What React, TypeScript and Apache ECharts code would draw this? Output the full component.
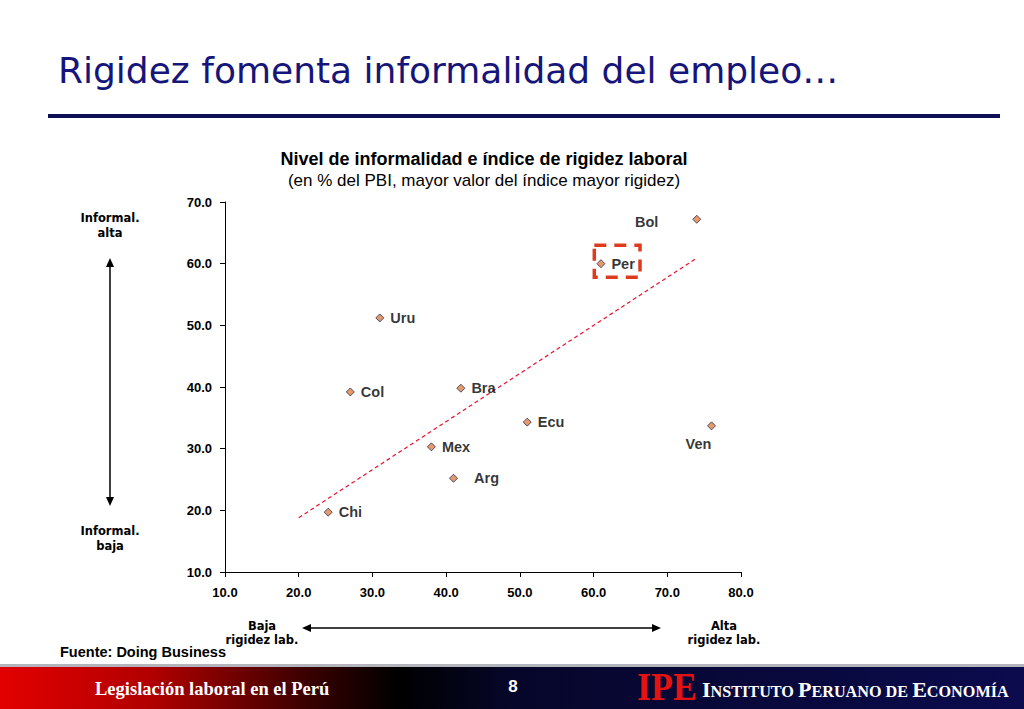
import React, { useEffect, useRef } from "react";
import * as echarts from "echarts";

// datos (Doing Business)
const countries = ["Bol", "Per", "Uru", "Col", "Bra", "Ecu", "Ven", "Mex", "Arg", "Chi"];
const rigidity = [74, 61, 31, 27, 42, 51, 76, 38, 41, 24];
const informality = [67.2, 60.0, 51.2, 39.2, 39.8, 34.3, 33.7, 30.3, 25.2, 19.7];

// línea de tendencia (extremos)
const trendX = [20, 74];
const trendY = [18.8, 60.9];

// recuadro que resalta al Perú (en unidades del gráfico)
const highlightX = [60.1, 66.3];
const highlightY = [57.8, 63.0];

const xMin = 10;
const xMax = 80;
const yMin = 10;
const yMax = 70;
const tickStep = 10;

const SANS = "Arial, 'Liberation Sans', sans-serif";
const VERDANA = "'DejaVu Sans', Verdana, sans-serif";
const SERIF = "'Liberation Serif', 'Times New Roman', serif";

// ajustes de etiqueta para puntos concretos
const labelTweaks: Record<string, any> = {
  Bol: { position: "left", distance: 34, offset: [0, 3] },
  Ven: { position: "bottom", distance: 6, offset: [-13, 0] },
  Arg: { distance: 16 },
};

function arrowHead(x: number, y: number, dir: "up" | "down" | "left" | "right") {
  const s = 4;
  const l = 9;
  let pts: number[][];
  if (dir === "up") pts = [[x, y], [x - s, y + l], [x + s, y + l]];
  else if (dir === "down") pts = [[x, y], [x - s, y - l], [x + s, y - l]];
  else if (dir === "left") pts = [[x, y], [x + l, y - s], [x + l, y + s]];
  else pts = [[x, y], [x - l, y - s], [x - l, y + s]];
  return { type: "polygon", shape: { points: pts }, style: { fill: "#000" } };
}

export default function App() {
  const chartRef = useRef<HTMLDivElement>(null);

  useEffect(() => {
    if (!chartRef.current) return;
    const chart = echarts.init(chartRef.current, undefined, { renderer: "svg" });

    const points = countries.map((name, i) => {
      const tweak = labelTweaks[name];
      const item: any = { name, value: [rigidity[i], informality[i]] };
      if (tweak) item.label = { ...tweak };
      return item;
    });

    const footerGradient = new echarts.graphic.LinearGradient(0, 0, 1, 0, [
      { offset: 0, color: "#e30000" },
      { offset: 0.15, color: "#b00000" },
      { offset: 0.3, color: "#3a0000" },
      { offset: 0.39, color: "#000000" },
      { offset: 0.5, color: "#06062a" },
      { offset: 1, color: "#0b0b4e" },
    ]);

    const annot = (x: number, y: number, text: string, lh: number) => ({
      type: "text",
      x,
      y,
      style: {
        text,
        fill: "#000",
        font: `bold 11.5px ${VERDANA}`,
        lineHeight: lh,
        align: "center",
        verticalAlign: "middle",
      },
    });

    const option: any = {
      animation: false,
      backgroundColor: "#ffffff",
      grid: { left: 225, right: 283, top: 202, bottom: 137 },
      xAxis: {
        type: "value",
        min: xMin,
        max: xMax,
        interval: tickStep,
        splitLine: { show: false },
        axisLine: { lineStyle: { color: "#000", width: 1 } },
        axisTick: { show: true, length: 5, lineStyle: { color: "#000" } },
        axisLabel: {
          margin: 14,
          color: "#000",
          fontFamily: SANS,
          fontWeight: "bold",
          fontSize: 13,
          formatter: (v: number) => v.toFixed(1),
        },
      },
      yAxis: {
        type: "value",
        min: yMin,
        max: yMax,
        interval: tickStep,
        splitLine: { show: false },
        axisLine: { show: true, lineStyle: { color: "#000", width: 1 } },
        axisTick: { show: true, length: 5, lineStyle: { color: "#000" } },
        axisLabel: {
          margin: 13,
          color: "#000",
          fontFamily: SANS,
          fontWeight: "bold",
          fontSize: 13,
          formatter: (v: number) => v.toFixed(1),
        },
      },
      series: [
        {
          type: "line",
          data: trendX.map((x, i) => [x, trendY[i]]),
          symbol: "none",
          silent: true,
          lineStyle: { color: "#e8112d", width: 1.2, type: [4, 3] },
          z: 1,
        },
        {
          type: "scatter",
          data: points,
          symbol: "diamond",
          symbolSize: 8,
          itemStyle: { color: "#e0813f", borderColor: "#2a2a5a", borderWidth: 1 },
          label: {
            show: true,
            position: "right",
            distance: 6,
            formatter: "{b}",
            color: "#000",
            fontFamily: SANS,
            fontWeight: "bold",
            fontSize: 14.5,
          },
          markArea: {
            silent: true,
            itemStyle: {
              color: "rgba(0,0,0,0)",
              borderColor: "#e03a1e",
              borderWidth: 3.5,
              borderType: [12, 8],
            },
            data: [
              [
                { coord: [highlightX[0], highlightY[1]] },
                { coord: [highlightX[1], highlightY[0]] },
              ],
            ],
          },
          z: 3,
        },
      ],
      graphic: [
        // título de la lámina
        {
          type: "text",
          x: 58,
          y: 70,
          style: {
            text: "Rigidez fomenta informalidad del empleo…",
            fill: "#16167a",
            font: `36px ${VERDANA}`,
            verticalAlign: "middle",
            shadowColor: "rgba(0,0,0,0.3)",
            shadowBlur: 2,
            shadowOffsetX: 2,
            shadowOffsetY: 2,
          },
        },
        { type: "rect", shape: { x: 48, y: 114, width: 952, height: 4 }, style: { fill: "#0f0f55" } },
        // título del gráfico
        {
          type: "text",
          x: 484,
          y: 159,
          style: {
            text: "Nivel de informalidad e índice de rigidez laboral",
            fill: "#000",
            font: `bold 18px ${SANS}`,
            align: "center",
            verticalAlign: "middle",
          },
        },
        {
          type: "text",
          x: 484,
          y: 180,
          style: {
            text: "(en % del PBI, mayor valor del índice mayor rigidez)",
            fill: "#000",
            font: `17px ${SANS}`,
            align: "center",
            verticalAlign: "middle",
          },
        },
        // anotaciones del eje vertical
        annot(110, 225, "Informal.\nalta", 15),
        annot(110, 538, "Informal.\nbaja", 15),
        { type: "line", shape: { x1: 110, y1: 266, x2: 110, y2: 498 }, style: { stroke: "#000", lineWidth: 1.5 } },
        arrowHead(110, 258, "up"),
        arrowHead(110, 506, "down"),
        // anotaciones del eje horizontal
        annot(262, 633, "Baja\nrigidez lab.", 14),
        annot(724, 633, "Alta\nrigidez lab.", 14),
        { type: "line", shape: { x1: 310, y1: 628, x2: 653, y2: 628 }, style: { stroke: "#000", lineWidth: 1.5 } },
        arrowHead(302, 628, "left"),
        arrowHead(661, 628, "right"),
        {
          type: "text",
          x: 60,
          y: 652,
          style: {
            text: "Fuente: Doing Business",
            fill: "#000",
            font: `bold 14.5px ${SANS}`,
            verticalAlign: "middle",
          },
        },
        // pie de página
        { type: "rect", shape: { x: 0, y: 664, width: 1024, height: 3 }, style: { fill: "#b4b4bc" } },
        { type: "rect", shape: { x: 0, y: 667, width: 1024, height: 42 }, style: { fill: footerGradient } },
        {
          type: "text",
          x: 95,
          y: 689,
          style: {
            text: "Legislación laboral en el Perú",
            fill: "#ffffff",
            font: `bold 18.5px ${SERIF}`,
            verticalAlign: "middle",
            shadowColor: "rgba(0,0,0,0.9)",
            shadowOffsetX: 1,
            shadowOffsetY: 1,
          },
        },
        {
          type: "text",
          x: 513,
          y: 686,
          style: {
            text: "8",
            fill: "#ffffff",
            font: `bold 17px ${SANS}`,
            align: "center",
            verticalAlign: "middle",
          },
        },
        {
          type: "text",
          x: 637,
          y: 687,
          scaleX: 0.92,
          style: {
            text: "IPE",
            fill: "#e51212",
            font: `bold 39px ${SERIF}`,
            verticalAlign: "middle",
          },
        },
        {
          type: "text",
          x: 702,
          y: 700,
          style: {
            text: "{b|I}{s|NSTITUTO }{b|P}{s|ERUANO DE }{b|E}{s|CONOMÍA}",
            fill: "#ffffff",
            verticalAlign: "bottom",
            rich: {
              b: { fill: "#ffffff", font: `bold 22px ${SERIF}`, verticalAlign: "bottom" },
              s: { fill: "#ffffff", font: `bold 16.2px ${SERIF}`, verticalAlign: "bottom" },
            },
          },
        },
      ],
    };

    chart.setOption(option);
    return () => chart.dispose();
  }, []);

  return (
    <div
      ref={chartRef}
      style={{ position: "fixed", left: 0, top: 0, width: 1024, height: 709, background: "#fff" }}
    />
  );
}
